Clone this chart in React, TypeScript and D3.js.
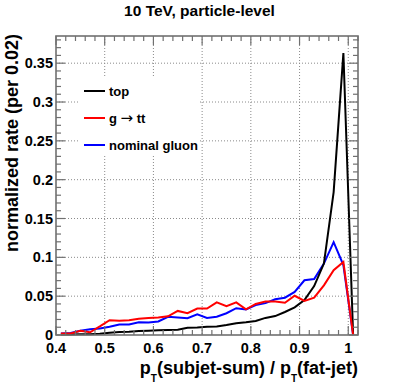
import React from 'react';
import * as d3 from 'd3';

// bin centres of pT(subjet-sum)/pT(fat-jet), bins of 0.02
const binCenters = [
  0.41, 0.43, 0.45, 0.47, 0.49, 0.51, 0.53, 0.55, 0.57, 0.59,
  0.61, 0.63, 0.65, 0.67, 0.69, 0.71, 0.73, 0.75, 0.77, 0.79,
  0.81, 0.83, 0.85, 0.87, 0.89, 0.91, 0.93, 0.95, 0.97, 0.99, 1.01,
];

const topRate = [
  0.0005, 0.0008, 0.001, 0.001, 0.0015, 0.003, 0.004, 0.0042, 0.005, 0.0055,
  0.006, 0.0064, 0.0067, 0.0094, 0.0098, 0.0107, 0.011, 0.0128, 0.015, 0.0163,
  0.018, 0.022, 0.0244, 0.0296, 0.0356, 0.045, 0.063, 0.092, 0.184, 0.363, 0.0,
];

const gttRate = [
  0.002, 0.002, 0.0055, 0.0035, 0.011, 0.019, 0.0185, 0.019, 0.021, 0.022,
  0.0225, 0.024, 0.031, 0.028, 0.034, 0.034, 0.042, 0.037, 0.042, 0.033,
  0.04, 0.043, 0.043, 0.0415, 0.0505, 0.044, 0.048, 0.064, 0.0835, 0.094, 0.0,
];

const gluonRate = [
  0.002, 0.0025, 0.0055, 0.0075, 0.0085, 0.0105, 0.0135, 0.0135, 0.0165, 0.016,
  0.0175, 0.0235, 0.0225, 0.0215, 0.0265, 0.022, 0.0235, 0.028, 0.0345, 0.033,
  0.0385, 0.041, 0.046, 0.048, 0.0555, 0.0705, 0.072, 0.092, 0.1195, 0.09, 0.0,
];

const xTicks = [0.4, 0.5, 0.6, 0.7, 0.8, 0.9, 1.0];
const xTickLabels = ['0.4', '0.5', '0.6', '0.7', '0.8', '0.9', '1'];
const yTicks = [0, 0.05, 0.1, 0.15, 0.2, 0.25, 0.3, 0.35];
const yTickLabels = ['0', '0.05', '0.1', '0.15', '0.2', '0.25', '0.3', '0.35'];

const seriesValues = [topRate, gttRate, gluonRate];
const seriesColors = ['#000000', '#ff0000', '#0000ff'];
const drawOrder = [2, 0, 1];

const W = 399;
const H = 385;
const frame = { left: 56, right: 358, top: 36, bottom: 335 };
const font = '"Liberation Sans", Arial, Helvetica, sans-serif';
const axisColor = '#707070';

export default function App() {
  const x = d3.scaleLinear().domain([0.4, 1.02]).range([frame.left, frame.right]);
  const y = d3.scaleLinear().domain([0, 0.385]).range([frame.bottom, frame.top]);

  const line = d3.line<number>()
    .x((_, i) => x(binCenters[i]))
    .y(d => y(d));

  const xMinor = d3.range(0, 32).map(i => 0.4 + i * 0.02);
  const yMinor = d3.range(0, 39).map(i => i * 0.01);

  const legendLabels = [
    <>top</>,
    <>g <tspan fontFamily='"DejaVu Sans", sans-serif' fontWeight="normal" fontSize={15}>{'\u2192'}</tspan> tt</>,
    <>nominal gluon</>,
  ];

  return (
    <svg width={W} height={H} style={{ position: 'absolute', left: 0, top: 0, background: '#fff' }}
      fontFamily={font} fontWeight="bold">
      {/* grid */}
      {xTicks.slice(1).map(t => (
        <line key={'gx' + t} x1={x(t)} x2={x(t)} y1={frame.top} y2={frame.bottom}
          stroke="#8a8a8a" strokeWidth={1} strokeDasharray="1,2" />
      ))}
      {yTicks.slice(1).map(t => (
        <line key={'gy' + t} x1={frame.left} x2={frame.right} y1={y(t)} y2={y(t)}
          stroke="#8a8a8a" strokeWidth={1} strokeDasharray="1,2" />
      ))}

      {/* legend box hides the grid */}
      <rect x={79} y={76} width={120} height={80} fill="#fff" />

      {/* curves */}
      {drawOrder.map(k => (
        <path key={'s' + k} d={line(seriesValues[k]) || ''} fill="none"
          stroke={seriesColors[k]} strokeWidth={2} strokeLinejoin="miter" />
      ))}

      {/* frame */}
      <rect x={frame.left} y={frame.top} width={frame.right - frame.left} height={frame.bottom - frame.top}
        fill="none" stroke={axisColor} strokeWidth={1.6} />

      {/* x ticks, bottom and top */}
      {xMinor.map((t, i) => {
        const len = i % 5 === 0 ? 9 : 5;
        return (
          <g key={'xt' + i} stroke={axisColor} strokeWidth={1.2}>
            <line x1={x(t)} x2={x(t)} y1={frame.bottom} y2={frame.bottom - len} />
            <line x1={x(t)} x2={x(t)} y1={frame.top} y2={frame.top + len} />
          </g>
        );
      })}
      {/* y ticks, left and right */}
      {yMinor.map((t, i) => {
        const len = i % 5 === 0 ? 9 : 5;
        return (
          <g key={'yt' + i} stroke={axisColor} strokeWidth={1.2}>
            <line x1={frame.left} x2={frame.left + len} y1={y(t)} y2={y(t)} />
            <line x1={frame.right} x2={frame.right - len} y1={y(t)} y2={y(t)} />
          </g>
        );
      })}

      {/* tick labels */}
      {xTicks.map((t, i) => (
        <text key={'xl' + t} x={x(t)} y={352.5} textAnchor="middle" fontSize={14.5}>{xTickLabels[i]}</text>
      ))}
      {yTicks.map((t, i) => (
        <text key={'yl' + t} x={53} y={y(t) + 5} textAnchor="end" fontSize={14.5}>{yTickLabels[i]}</text>
      ))}

      {/* title */}
      <text x={199.5} y={16} textAnchor="middle" fontSize={15.5}>10 TeV, particle-level</text>

      {/* axis titles */}
      <text x={frame.right} y={374} textAnchor="end" fontSize={18}>
        p<tspan dy={8} fontSize={10}>T</tspan>
        <tspan dy={-8}>(subjet-sum) / p</tspan>
        <tspan dy={8} fontSize={10}>T</tspan>
        <tspan dy={-8}>(fat-jet)</tspan>
      </text>
      <text transform="translate(18,34) rotate(-90)" textAnchor="end" fontSize={18}>
        normalized rate (per 0.02)
      </text>

      {/* legend */}
      {legendLabels.map((label, i) => (
        <g key={'lg' + i}>
          <line x1={84} x2={105} y1={91 + i * 27} y2={91 + i * 27} stroke={seriesColors[i]} strokeWidth={2} />
          <text x={109} y={95.5 + i * 27} fontSize={13}>{label}</text>
        </g>
      ))}
    </svg>
  );
}
